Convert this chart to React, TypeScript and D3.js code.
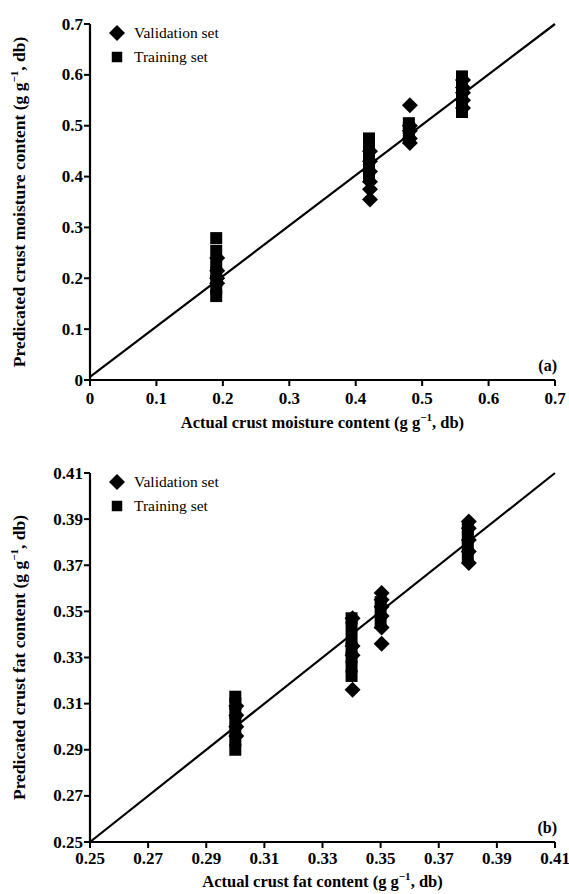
import React from "react";
import * as d3 from "d3";

// ---------- data ----------
// Panel (a): crust moisture content
const moistureValidation = [
  { x: 0.19, ys: [0.19, 0.2, 0.215, 0.24] },
  { x: 0.42, ys: [0.355, 0.375, 0.39, 0.41, 0.43, 0.45] },
  { x: 0.48, ys: [0.54, 0.5, 0.49, 0.475, 0.466] },
  { x: 0.56, ys: [0.535, 0.55, 0.565, 0.575, 0.59] },
];
const moistureTraining = [
  { x: 0.19, ys: [0.165, 0.18, 0.195, 0.21, 0.226, 0.254, 0.279] },
  { x: 0.42, ys: [0.4, 0.415, 0.43, 0.445, 0.46, 0.475] },
  { x: 0.48, ys: [0.48, 0.495, 0.505] },
  { x: 0.56, ys: [0.527, 0.54, 0.555, 0.57, 0.585, 0.597] },
];
const moistureTicks = [0, 0.1, 0.2, 0.3, 0.4, 0.5, 0.6, 0.7];
const moistureLine = [
  [0, 0.006],
  [0.7, 0.7],
];

// Panel (b): crust fat content
const fatValidation = [
  { x: 0.3, ys: [0.296, 0.3, 0.305, 0.309] },
  { x: 0.34, ys: [0.316, 0.331, 0.335, 0.347] },
  { x: 0.35, ys: [0.336, 0.343, 0.348, 0.352, 0.355, 0.358] },
  { x: 0.38, ys: [0.371, 0.376, 0.381, 0.386, 0.389] },
];
const fatTraining = [
  { x: 0.3, ys: [0.29, 0.294, 0.298, 0.302, 0.306, 0.31, 0.313] },
  { x: 0.34, ys: [0.322, 0.326, 0.33, 0.334, 0.338, 0.343, 0.347] },
  { x: 0.35, ys: [0.345, 0.35, 0.354] },
  { x: 0.38, ys: [0.374, 0.378, 0.382, 0.386] },
];
const fatTicks = [0.25, 0.27, 0.29, 0.31, 0.33, 0.35, 0.37, 0.39, 0.41];
const fatLine = [
  [0.25, 0.25],
  [0.41, 0.41],
];

const legendLabels = ["Validation set", "Training set"];

const FONT = "'Liberation Serif', 'Times New Roman', serif";

type Group = { x: number; ys: number[] };

function Panel(props: {
  top: number;
  bottom: number;
  domain: [number, number];
  ticks: number[];
  fmt: (v: number) => string;
  validation: Group[];
  training: Group[];
  line: number[][];
  xTitle: string;
  yTitle: string;
  tag: string;
  labelGap: number;
  titleGap: number;
}) {
  const { top, bottom, domain, ticks, fmt, validation, training, line } = props;
  const left = 90;
  const right = 555;
  const x = d3.scaleLinear().domain(domain).range([left, right]);
  const y = d3.scaleLinear().domain(domain).range([bottom, top]);
  const diamond = d3.symbol().type(d3.symbolSquare).size(128)()!;
  const square = d3.symbol().type(d3.symbolSquare).size(144)()!;
  const lineGen = d3
    .line<number[]>()
    .x((d) => x(d[0]))
    .y((d) => y(d[1]));
  const midY = (top + bottom) / 2;
  return (
    <g fontFamily={FONT}>
      {/* markers */}
      {training.map((g, i) =>
        g.ys.map((v, j) => (
          <path key={`t${i}-${j}`} d={square} transform={`translate(${x(g.x)},${y(v)})`} fill="#000" />
        ))
      )}
      {validation.map((g, i) =>
        g.ys.map((v, j) => (
          <path
            key={`v${i}-${j}`}
            d={diamond}
            transform={`translate(${x(g.x) + 1},${y(v)}) rotate(45)`}
            fill="#000"
          />
        ))
      )}
      <path d={lineGen(line)!} stroke="#000" strokeWidth={2.2} fill="none" />
      {/* axes */}
      <line x1={left} x2={left} y1={top} y2={bottom} stroke="#000" strokeWidth={2.2} />
      <line x1={left} x2={right} y1={bottom} y2={bottom} stroke="#000" strokeWidth={2.2} />
      {ticks.map((t) => (
        <g key={`y${t}`}>
          <line x1={left - 6} x2={left} y1={y(t)} y2={y(t)} stroke="#000" strokeWidth={2} />
          <text x={left - 7} y={y(t) + 5.5} textAnchor="end" fontSize={17} fontWeight="bold">
            {fmt(t)}
          </text>
        </g>
      ))}
      {ticks.map((t) => (
        <g key={`x${t}`}>
          <line x1={x(t)} x2={x(t)} y1={bottom} y2={bottom + 6} stroke="#000" strokeWidth={2} />
          <text x={x(t)} y={bottom + props.labelGap} textAnchor="middle" fontSize={17} fontWeight="bold">
            {fmt(t)}
          </text>
        </g>
      ))}
      {/* titles */}
      <text x={(left + right) / 2} y={bottom + props.titleGap} textAnchor="middle" fontSize={16.5} fontWeight="bold">
        {props.xTitle} (g g<tspan dy={-7} fontSize={11}>−1</tspan>
        <tspan dy={7}>, db)</tspan>
      </text>
      <text
        transform={`translate(25,${midY}) rotate(-90)`}
        textAnchor="middle"
        fontSize={17.5}
        fontWeight="bold"
      >
        {props.yTitle} (g g<tspan dy={-7} fontSize={11}>−1</tspan>
        <tspan dy={7}>, db)</tspan>
      </text>
      <text x={557} y={bottom - 9} textAnchor="end" fontSize={16} fontWeight="bold">
        {props.tag}
      </text>
      {/* legend */}
      <path d={diamond} transform={`translate(117,${top + 9}) rotate(45)`} fill="#000" />
      <path d={d3.symbol().type(d3.symbolSquare).size(110)()!} transform={`translate(117,${top + 33})`} fill="#000" />
      <text x={134} y={top + 14} fontSize={15.5}>
        {legendLabels[0]}
      </text>
      <text x={134} y={top + 38} fontSize={15.5}>
        {legendLabels[1]}
      </text>
    </g>
  );
}

export default function App() {
  return (
    <svg
      width={569}
      height={894}
      style={{ position: "absolute", left: 0, top: 0, background: "#fff" }}
    >
      <rect width={569} height={894} fill="#fff" />
      <Panel
        top={24}
        bottom={380}
        domain={[0, 0.7]}
        ticks={moistureTicks}
        fmt={(v) => (v === 0 ? "0" : d3.format(".1f")(v))}
        validation={moistureValidation}
        training={moistureTraining}
        line={moistureLine}
        xTitle="Actual crust moisture content"
        yTitle="Predicated crust moisture content"
        tag="(a)"
        labelGap={24}
        titleGap={48}
      />
      <Panel
        top={473}
        bottom={842}
        domain={[0.25, 0.41]}
        ticks={fatTicks}
        fmt={(v) => d3.format(".2f")(v)}
        validation={fatValidation}
        training={fatTraining}
        line={fatLine}
        xTitle="Actual crust fat content"
        yTitle="Predicated crust fat content"
        tag="(b)"
        labelGap={22}
        titleGap={45}
      />
    </svg>
  );
}
